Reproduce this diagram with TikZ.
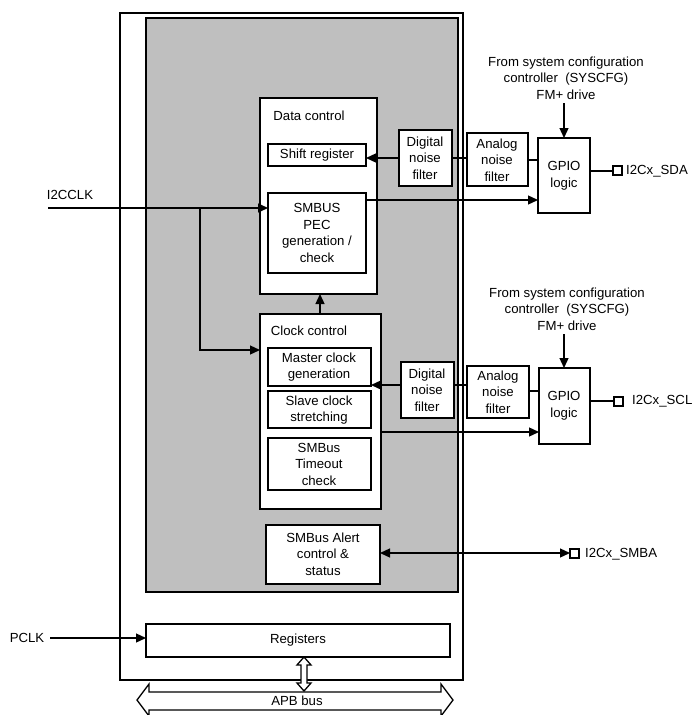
\documentclass[tikz,border=0pt]{standalone}
\usepackage{fontspec}
\setmainfont{Liberation Sans}
\usetikzlibrary{arrows.meta}
\begin{document}
\begin{tikzpicture}[x=1pt,y=-1pt,
  bx/.style={draw,line width=1.3pt,fill=white},
  lbl/.style={font=\fontsize{13.2}{16.5}\selectfont,align=center,inner sep=0pt},
  ar/.style={line width=1.3pt,-{Triangle[length=10pt,width=9pt]}},
  ln/.style={line width=1.3pt}]
\useasboundingbox (0,0) rectangle (692,715);
\draw[line width=1.6pt] (120,13) rectangle (463,680);
\draw[line width=1.4pt,fill=black!25] (146,18) rectangle (458,592);
% data control
\draw[bx] (260,98) rectangle (377,294);
\node[lbl] (dc) at (309,116) {Data control};
\draw[bx] (268,144) rectangle (366,166); \node[lbl] (sr) at (317,155) {Shift register};
\coordinate (srR) at (366,158);
\draw[bx] (268,193) rectangle (366,273);
\node[lbl] (pec) at (317,233) {SMBUS\\PEC\\generation /\\check};
% clock control
\draw[bx] (260,314) rectangle (381,509);
\node[lbl] (cc) at (309,331) {Clock control};
\draw[bx] (268,348) rectangle (371,386); \node[lbl] (mc) at (319,367) {Master clock\\generation};
\draw[bx] (268,391) rectangle (371,428); \node[lbl] (sc) at (319,410) {Slave clock\\stretching};
\draw[bx] (268,438) rectangle (371,490); \node[lbl] (to) at (319,464) {SMBus\\Timeout\\check};
\draw[bx] (266,525) rectangle (380,584); \node[lbl] (al) at (323,554) {SMBus Alert\\control \&\\status};
\draw[bx] (146,624) rectangle (450,657); \node[lbl] (reg) at (298,640) {Registers};
% filters
\draw[bx] (399,130) rectangle (452,186); \node[lbl] (df1) at (425,158) {Digital\\noise\\filter};
\draw[bx] (467,133) rectangle (528,186); \node[lbl] (af1) at (497,160) {Analog\\noise\\filter};
\draw[bx] (538,138) rectangle (590,213); \node[lbl] (g1) at (564,176) {GPIO\\logic};
\draw[bx] (401,362) rectangle (454,418); \node[lbl] (df2) at (427,390) {Digital\\noise\\filter};
\draw[bx] (467,366) rectangle (529,418); \node[lbl] (af2) at (498,392) {Analog\\noise\\filter};
\draw[bx] (539,368) rectangle (590,444); \node[lbl] (g2) at (564,406) {GPIO\\logic};
% syscfg
\node[lbl] (s1) at (566,78) {From system configuration\\controller\ \ (SYSCFG)\\FM+ drive};
\node[lbl] (s2) at (567,309) {From system configuration\\controller\ \ (SYSCFG)\\FM+ drive};
\draw[ar] (564,103) -- (564,138);
\draw[ar] (564,334) -- (564,368);
% pins
\draw[line width=1.1pt,fill=white] (613,166) rectangle (622,175); \coordinate (p1) at (613,171);
\node[lbl,anchor=west] (sda) at (626,171) {I2Cx\_SDA};
\draw[line width=1.1pt,fill=white] (614,397) rectangle (623,406); \coordinate (p2) at (614,401);
\node[lbl,anchor=west] (scl) at (632,401) {I2Cx\_SCL};
\draw[line width=1.1pt,fill=white] (570,549) rectangle (579,558); \coordinate (p3) at (570,553);
\node[lbl,anchor=west] (smba) at (585,554) {I2Cx\_SMBA};
\draw[ln] (590,171) -- (p1);
\draw[ln] (590,401) -- (p2);
\draw[line width=1.3pt,{Triangle[length=10pt,width=9pt]}-{Triangle[length=10pt,width=9pt]}] (380,553) -- (p3);
% connections top
\draw[ar] (399,158) -- (srR);
\draw[ln] (452,158) -- (467,158);
\draw[ln] (528,160) -- (538,160);
\draw[ar] (366,200) -- (538,200);
% bottom
\draw[ar] (401,385) -- (371,385);
\draw[ln] (454,385) -- (467,385);
\draw[ln] (529,391) -- (539,391);
\draw[ar] (381,432) -- (539,432);
\draw[ar] (320,314) -- (320,294);
% clocks
\node[lbl] (clk) at (70,195) {I2CCLK};
\draw[ar] (48,208) -- (268,208);
\draw[ar] (200,208) -- (200,350) -- (260,350);
\node[lbl] (pclk) at (27,638) {PCLK};
\draw[ar] (50,638) -- (146,638);
% bus
\draw[line width=1.3pt,fill=white] (137,700) -- (149,684) -- (149,692) -- (441,692) -- (441,684) -- (453,700) -- (441,716) -- (441,710) -- (149,710) -- (149,716) -- cycle;
\node[lbl] (apb) at (297,701) {APB bus};
\draw[line width=1.3pt,fill=white] (304,657) -- (311,665) -- (307,665) -- (307,683) -- (311,683) -- (304,691) -- (297,683) -- (301,683) -- (301,665) -- (297,665) -- cycle;
\end{tikzpicture}
\end{document}
